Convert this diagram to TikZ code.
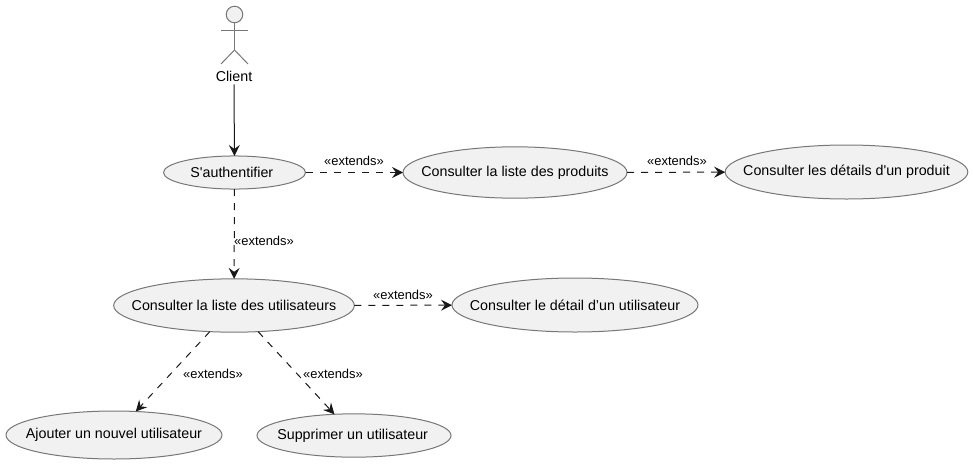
\documentclass[tikz,border=0pt]{standalone}
\usepackage{fontspec}
\setmainfont{Liberation Sans}
\usetikzlibrary{
	shapes.geometric,
	arrows.meta}

\newcommand{\uc}[1]{\makebox[0pt]{#1}}
\tikzset{
	usecase/.style={ellipse, draw=umlgray, fill=umlfill, line width=.75pt, inner sep=0pt, outer sep=0pt, font=\fontsize{10.7}{12}\selectfont},
	actorpart/.style={draw=umlgray, line width=.75pt},
	stereo/.style={inner sep=0pt, font=\fontsize{9.7}{11}\selectfont},
	assoc/.style={draw=umlline, line width=.75pt, -{Stealth[length=8.25pt, width=8.25pt, inset=3pt]}},
	extends/.style={assoc, dash pattern=on 5.25pt off 5.25pt}}
\definecolor{umlgray}{HTML}{777777}
\definecolor{umlfill}{HTML}{F1F1F1}
\definecolor{umlline}{HTML}{181818}

\begin{document}
\begin{tikzpicture}[x=.75pt, y=-.75pt]
    \useasboundingbox (0,0) rectangle (973,464);

    \node (head) [circle, actorpart, fill=umlfill, minimum size=12.4pt, inner sep=0pt, outer sep=0pt] at (234.5,14.5) {};
    \coordinate (hip) at (234.5,50);
    \coordinate (armL) at (221,30);
    \coordinate (armR) at (248,30);
    \coordinate (legL) at (221,64);
    \coordinate (legR) at (248,64);
    \node (client) [inner sep=0pt, minimum height=12pt, font=\fontsize{10.7}{12}\selectfont] at (234,76) {Client};

    \node (auth) [usecase, minimum width=106.5pt, minimum height=24.8pt] at (234.5,172.5) {\uc{S\textquotesingle authentifier\hspace{4pt}}};
    \node (produits) [usecase, minimum width=168pt, minimum height=38.5pt] at (515,172.5) {\uc{Consulter la liste des produits}};
    \node (details) [usecase, minimum width=182pt, minimum height=40.5pt] at (846.5,172) {\uc{Consulter les détails d\textquotesingle un produit}};
    \node (users) [usecase, minimum width=180.5pt, minimum height=40pt] at (234,305.5) {\uc{Consulter la liste des utilisateurs}};
    \node (detail) [usecase, minimum width=184.5pt, minimum height=40.5pt] at (575,305) {\uc{Consulter le détail d’un utilisateur}};
    \node (ajout) [usecase, minimum width=162pt, minimum height=36pt] at (114,435) {\uc{Ajouter un nouvel utilisateur}};
    \node (suppr) [usecase, minimum width=145.5pt, minimum height=32.5pt] at (354,435.5) {\uc{Supprimer un utilisateur\hspace{2pt}}};

    \node (E1) [stereo] at (354,161) {«extends»};
    \node (E2) [stereo] at (677,161) {«extends»};
    \node (E3) [stereo] at (264,241) {«extends»};
    \node (E4) [stereo] at (403,295) {«extends»};
    \node (E5) [stereo] at (213,374) {«extends»};
    \node (E6) [stereo] at (333,374) {«extends»};

    \draw [actorpart] (head) to (hip);
    \draw [actorpart] (armL) to (armR);
    \draw [actorpart] (legL) to (hip);
    \draw [actorpart] (legR) to (hip);

    \draw [assoc] (client) to (auth);
    \draw [extends] (auth) to (produits);
    \draw [extends] (produits) to (details);
    \draw [extends] (auth) to (users);
    \draw [extends] (users) to (detail);
    \draw [extends] (users) to (ajout);
    \draw [extends] (users) to (suppr);
  \end{tikzpicture}
\end{document}
